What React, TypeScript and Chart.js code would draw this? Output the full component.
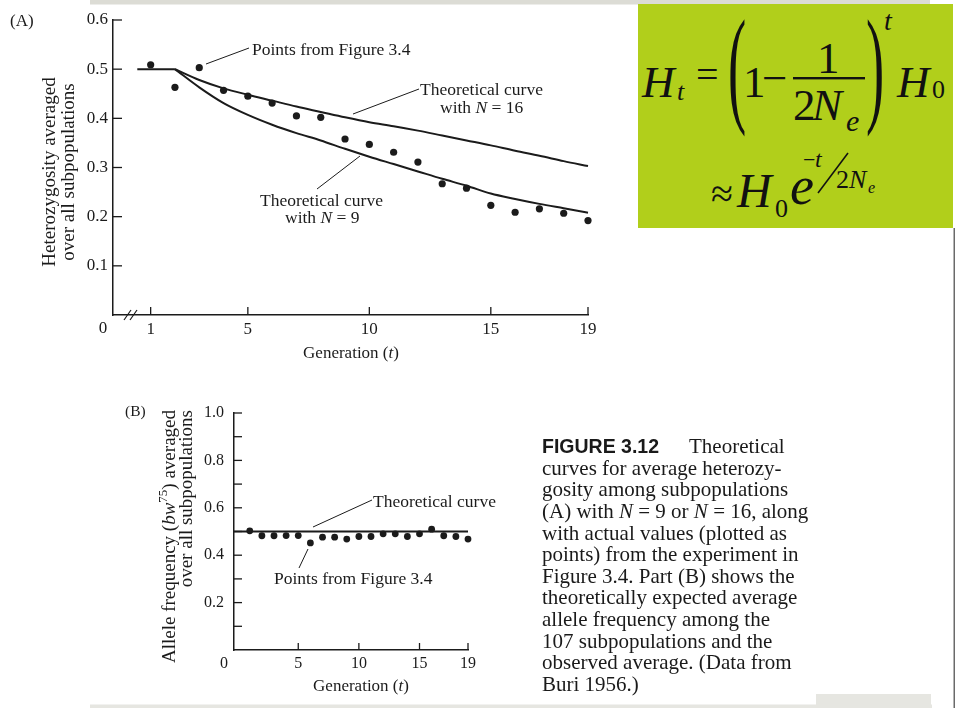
import React, { useEffect, useRef } from "react";
import { Chart, registerables } from "chart.js";
Chart.register(...registerables);

// ---------- Panel A data ----------
const generationsA = [1, 2, 3, 4, 5, 6, 7, 8, 9, 10, 11, 12, 13, 14, 15, 16, 17, 18, 19];
const heterozygosityObserved = [0.509, 0.463, 0.503, 0.457, 0.445, 0.431, 0.405, 0.402, 0.358, 0.347, 0.331, 0.311, 0.267, 0.258, 0.223, 0.209, 0.216, 0.207, 0.192];
const plateauGenerations = [0.45, 2];
const plateauHeterozygosity = [0.5, 0.5];
const curveGenerations = [2, 3, 4, 5, 6, 7, 8, 9, 10, 11, 12, 13, 14, 15, 16, 17, 18, 19];
const heterozygosityN16 = [0.5, 0.478, 0.461, 0.448, 0.436, 0.424, 0.413, 0.402, 0.392, 0.384, 0.375, 0.365, 0.355, 0.345, 0.334, 0.324, 0.313, 0.303];
const heterozygosityN9 = [0.5, 0.463, 0.431, 0.407, 0.387, 0.37, 0.355, 0.338, 0.322, 0.307, 0.292, 0.277, 0.263, 0.247, 0.236, 0.226, 0.217, 0.208];
const xTicksA = [1, 5, 10, 15, 19];
const yTicksA = [0, 0.1, 0.2, 0.3, 0.4, 0.5, 0.6];

// ---------- Panel B data ----------
const generationsB = [1, 2, 3, 4, 5, 6, 7, 8, 9, 10, 11, 12, 13, 14, 15, 16, 17, 18, 19];
const alleleFreqObserved = [0.503, 0.482, 0.482, 0.483, 0.483, 0.452, 0.476, 0.476, 0.468, 0.479, 0.479, 0.49, 0.49, 0.479, 0.49, 0.51, 0.482, 0.479, 0.468];
const theoryGenerationsB = [-0.3, 19];
const theoryFreqB = [0.5, 0.5];
const xTicksB = [5, 10, 15, 19];
const yTicksB = [0, 0.1, 0.2, 0.3, 0.4, 0.5, 0.6, 0.7, 0.8, 0.9, 1.0];
const yLabelledB = [0.2, 0.4, 0.6, 0.8, 1.0];

const SERIF = '"Liberation Serif", "Times New Roman", serif';
const INK = "#1b1b1b";
const PW = 956;
const PH = 708;

type Part = { t: string; it?: boolean; sup?: boolean };

function fontOf(p: Part, size: number) {
  const s = p.sup ? Math.round(size * 0.68) : size;
  return `${p.it ? "italic " : ""}${s}px ${SERIF}`;
}

function drawRich(ctx: CanvasRenderingContext2D, parts: Part[], x: number, y: number, size: number, align: "left" | "center" | "right" = "left") {
  let total = 0;
  const widths = parts.map((p) => {
    ctx.font = fontOf(p, size);
    const w = ctx.measureText(p.t).width;
    total += w;
    return w;
  });
  let cx = align === "left" ? x : align === "center" ? x - total / 2 : x - total;
  ctx.textAlign = "left";
  ctx.textBaseline = "alphabetic";
  parts.forEach((p, i) => {
    ctx.font = fontOf(p, size);
    ctx.fillText(p.t, cx, p.sup ? y - size * 0.4 : y);
    cx += widths[i];
  });
}

function drawRotated(ctx: CanvasRenderingContext2D, parts: Part[], x: number, y: number, size: number, align: "left" | "center" | "right") {
  ctx.save();
  ctx.translate(x, y);
  ctx.rotate(-Math.PI / 2);
  drawRich(ctx, parts, 0, 0, size, align);
  ctx.restore();
}

function seg(ctx: CanvasRenderingContext2D, x1: number, y1: number, x2: number, y2: number) {
  ctx.beginPath();
  ctx.moveTo(x1, y1);
  ctx.lineTo(x2, y2);
  ctx.stroke();
}

const toXY = (xs: number[], ys: number[]) => xs.map((x, i) => ({ x, y: ys[i] }));

const decorA = {
  id: "decorA",
  afterDraw(chart: any) {
    const { ctx, chartArea: ca, scales } = chart;
    const x = scales.x;
    const y = scales.y;
    ctx.save();
    ctx.strokeStyle = INK;
    ctx.fillStyle = INK;
    ctx.lineWidth = 1.3;
    y.ticks.forEach((t: any) => {
      if (t.value === 0) return;
      const py = y.getPixelForValue(t.value);
      seg(ctx, ca.left, py, ca.left + 9, py);
    });
    x.ticks.forEach((t: any) => {
      const px = x.getPixelForValue(t.value);
      seg(ctx, px, ca.bottom, px, ca.bottom - 8);
    });
    // axis break
    ctx.lineWidth = 1.2;
    seg(ctx, 124, 320, 131, 310);
    seg(ctx, 130, 320, 137, 310);
    ctx.font = `17px ${SERIF}`;
    ctx.textAlign = "center";
    ctx.textBaseline = "alphabetic";
    ctx.fillText("0", 103, 333);
    // panel letter
    drawRich(ctx, [{ t: "(A)" }], 10, 26, 17);
    // titles
    drawRotated(ctx, [{ t: "Heterozygosity averaged" }], 54.5, 172, 19, "center");
    drawRotated(ctx, [{ t: "over all subpopulations" }], 73.5, 172, 19, "center");
    drawRich(ctx, [{ t: "Generation (" }, { t: "t", it: true }, { t: ")" }], 351, 358, 17, "center");
    // annotations
    ctx.lineWidth = 1;
    seg(ctx, 206, 64, 249, 48);
    seg(ctx, 353, 114, 419, 89);
    seg(ctx, 360, 156, 317, 189);
    drawRich(ctx, [{ t: "Points from Figure 3.4" }], 252, 55, 17.5);
    drawRich(ctx, [{ t: "Theoretical curve" }], 420, 95, 17.5);
    drawRich(ctx, [{ t: "with " }, { t: "N", it: true }, { t: " = 16" }], 440, 113, 17.5);
    drawRich(ctx, [{ t: "Theoretical curve" }], 260, 205.5, 17.5);
    drawRich(ctx, [{ t: "with " }, { t: "N", it: true }, { t: " = 9" }], 285, 223, 17.5);
    ctx.restore();
  },
};

const decorB = {
  id: "decorB",
  afterDraw(chart: any) {
    const { ctx, chartArea: ca, scales } = chart;
    const x = scales.x;
    const y = scales.y;
    ctx.save();
    ctx.strokeStyle = INK;
    ctx.fillStyle = INK;
    ctx.lineWidth = 1.3;
    y.ticks.forEach((t: any) => {
      if (t.value === 0) return;
      const py = y.getPixelForValue(t.value);
      seg(ctx, ca.left, py, ca.left + 8, py);
    });
    x.ticks.forEach((t: any) => {
      const px = x.getPixelForValue(t.value);
      seg(ctx, px, ca.bottom, px, ca.bottom - 7);
    });
    ctx.font = `16px ${SERIF}`;
    ctx.textAlign = "center";
    ctx.textBaseline = "alphabetic";
    ctx.fillText("0", 224, 668);
    drawRich(ctx, [{ t: "(B)" }], 125, 416, 15.5);
    drawRotated(ctx, [{ t: "Allele frequency (" }, { t: "bw", it: true }, { t: "75", sup: true }, { t: ") averaged" }], 174.5, 410, 19, "right");
    drawRotated(ctx, [{ t: "over all subpopulations" }], 191.5, 410, 19, "right");
    drawRich(ctx, [{ t: "Generation (" }, { t: "t", it: true }, { t: ")" }], 361, 691, 17, "center");
    ctx.lineWidth = 1;
    seg(ctx, 313, 527, 372, 500);
    seg(ctx, 308, 549, 299, 568);
    drawRich(ctx, [{ t: "Theoretical curve" }], 373, 507, 17.5);
    drawRich(ctx, [{ t: "Points from Figure 3.4" }], 274, 584, 17.5);
    ctx.restore();
  },
};

function axisCommon(fontSize: number) {
  return {
    type: "linear" as const,
    grid: { display: false, drawTicks: false },
    border: { display: true, color: INK, width: 1.5 },
    ticks: { color: INK, font: { family: SERIF, size: fontSize }, autoSkip: false, maxRotation: 0, minRotation: 0 },
  };
}

function configA(): any {
  const ax = axisCommon(17);
  const ay = axisCommon(17);
  return {
    type: "scatter",
    data: {
      datasets: [
        { type: "line", data: toXY(plateauGenerations, plateauHeterozygosity), borderColor: INK, borderWidth: 2, pointRadius: 0, fill: false, clip: false },
        { type: "line", data: toXY(curveGenerations, heterozygosityN16), borderColor: INK, borderWidth: 2, pointRadius: 0, fill: false, cubicInterpolationMode: "monotone", clip: false },
        { type: "line", data: toXY(curveGenerations, heterozygosityN9), borderColor: INK, borderWidth: 2, pointRadius: 0, fill: false, cubicInterpolationMode: "monotone", clip: false },
        { type: "scatter", data: toXY(generationsA, heterozygosityObserved), pointRadius: 3.6, backgroundColor: INK, borderWidth: 0, clip: false },
      ],
    },
    options: {
      responsive: false,
      animation: false,
      devicePixelRatio: 1,
      events: [],
      layout: { padding: { left: 0, top: 20, right: PW - 588, bottom: PH - 315 - 55 } },
      plugins: { legend: { display: false }, tooltip: { enabled: false }, title: { display: false } },
      scales: {
        x: {
          ...ax,
          min: -0.55,
          max: 19,
          ticks: { ...ax.ticks, padding: 4 },
          afterBuildTicks: (s: any) => { s.ticks = xTicksA.map((v) => ({ value: v })); },
          afterFit: (s: any) => { s.height = 55; },
        },
        y: {
          ...ay,
          min: 0,
          max: 0.6,
          ticks: { ...ay.ticks, padding: 5, callback: (v: number) => (v === 0 ? "" : v.toFixed(1)) },
          afterBuildTicks: (s: any) => { s.ticks = yTicksA.map((v) => ({ value: v })); },
          afterFit: (s: any) => { s.width = 113; },
        },
      },
    },
    plugins: [decorA],
  };
}

function configB(): any {
  const ax = axisCommon(16);
  const ay = axisCommon(16);
  return {
    type: "scatter",
    data: {
      datasets: [
        { type: "line", data: toXY(theoryGenerationsB, theoryFreqB), borderColor: INK, borderWidth: 2, pointRadius: 0, fill: false, clip: false },
        { type: "scatter", data: toXY(generationsB, alleleFreqObserved), pointRadius: 3.4, backgroundColor: INK, borderWidth: 0, clip: false },
      ],
    },
    options: {
      responsive: false,
      animation: false,
      devicePixelRatio: 1,
      events: [],
      layout: { padding: { left: 0, top: 413, right: PW - 468, bottom: 0 } },
      plugins: { legend: { display: false }, tooltip: { enabled: false }, title: { display: false } },
      scales: {
        x: {
          ...ax,
          min: -0.3,
          max: 19,
          ticks: { ...ax.ticks, padding: 4 },
          afterBuildTicks: (s: any) => { s.ticks = xTicksB.map((v) => ({ value: v })); },
          afterFit: (s: any) => { s.height = 58; },
        },
        y: {
          ...ay,
          min: 0,
          max: 1,
          ticks: {
            ...ay.ticks,
            padding: 10,
            callback: (v: number) => (yLabelledB.some((l) => Math.abs(l - v) < 1e-6) ? v.toFixed(1) : ""),
          },
          afterBuildTicks: (s: any) => { s.ticks = yTicksB.map((v) => ({ value: v })); },
          afterFit: (s: any) => { s.width = 234; },
        },
      },
    },
    plugins: [decorB],
  };
}

const captionLines: React.ReactNode[] = [
  "curves for average heterozy-",
  "gosity among subpopulations",
  <>(A) with <i>N</i> = 9 or <i>N</i> = 16, along</>,
  "with actual values (plotted as",
  "points) from the experiment in",
  "Figure 3.4. Part (B) shows the",
  "theoretically expected average",
  "allele frequency among the",
  "107 subpopulations and the",
  "observed average. (Data from",
  "Buri 1956.)",
];

function Formula() {
  const f = { fontFamily: SERIF, fill: "#111" } as const;
  return (
    <svg width={PW} height={PH} style={{ position: "absolute", left: 0, top: 0 }}>
      <rect x={90} y={0} width={840} height={4.5} fill="#dcdcd5" />
      <rect x={638} y={4} width={315} height={224} fill="#b1cf1b" />
      <rect x={953.5} y={228} width={1.5} height={480} fill="#6a6a6a" />
      <rect x={90} y={704.5} width={842} height={3.5} fill="#e6e6e1" />
      <rect x={816} y={694} width={115} height={14} fill="#e6e6e1" />
      <g {...f}>
        <text x={642} y={97} fontSize={45} fontStyle="italic">H</text>
        <text x={677} y={100} fontSize={26} fontStyle="italic">t</text>
        <text x={696} y={88} fontSize={40}>=</text>
        <text transform="translate(728,109) scale(0.42,1)" fontSize={130}>(</text>
        <text x={743} y={97} fontSize={45}>1</text>
        <text x={762} y={93} fontSize={45}>−</text>
        <text x={817} y={73} fontSize={45}>1</text>
        <rect x={793} y={77} width={72} height={2.4} fill="#111" />
        <text x={793} y={120} fontSize={45}>2</text>
        <text x={812} y={120} fontSize={45} fontStyle="italic">N</text>
        <text x={846} y={131} fontSize={30} fontStyle="italic">e</text>
        <text transform="translate(866,109) scale(0.42,1)" fontSize={130}>)</text>
        <text x={884} y={30} fontSize={28} fontStyle="italic">t</text>
        <text x={897} y={97} fontSize={45} fontStyle="italic">H</text>
        <text x={932} y={98} fontSize={26}>0</text>

        <text x={711} y={207} fontSize={40}>≈</text>
        <text x={737} y={207} fontSize={48} fontStyle="italic">H</text>
        <text x={775} y={217} fontSize={26}>0</text>
        <text x={790} y={204} fontSize={54} fontStyle="italic">e</text>
        <text x={803} y={167} fontSize={22}>−</text>
        <text x={815} y={167} fontSize={24} fontStyle="italic">t</text>
        <line x1={818} y1={193} x2={848} y2={153} stroke="#111" strokeWidth={1.6} />
        <text x={836} y={188} fontSize={26}>2</text>
        <text x={849} y={188} fontSize={26} fontStyle="italic">N</text>
        <text x={868} y={193} fontSize={16} fontStyle="italic">e</text>
      </g>
    </svg>
  );
}

export default function App() {
  const refA = useRef<HTMLCanvasElement>(null);
  const refB = useRef<HTMLCanvasElement>(null);
  useEffect(() => {
    const a = new Chart(refA.current as HTMLCanvasElement, configA());
    const b = new Chart(refB.current as HTMLCanvasElement, configB());
    return () => {
      a.destroy();
      b.destroy();
    };
  }, []);
  const lineH = 21.64;
  return (
    <div style={{ position: "absolute", left: 0, top: 0, width: PW, height: PH, overflow: "hidden", background: "#fff" }}>
      <Formula />
      <canvas ref={refA} width={PW} height={PH} style={{ position: "absolute", left: 0, top: 0 }} />
      <canvas ref={refB} width={PW} height={PH} style={{ position: "absolute", left: 0, top: 0 }} />
      <div style={{ position: "absolute", left: 542, top: 436, fontFamily: SERIF, fontSize: 21, color: "#1a1a1a", whiteSpace: "pre" }}>
        <div style={{ height: lineH, lineHeight: `${lineH}px` }}>
          <span style={{ display: "inline-block", width: 147, fontFamily: '"Liberation Sans", Arial, sans-serif', fontWeight: "bold", fontSize: 19.5 }}>FIGURE 3.12</span>
          <span>Theoretical</span>
        </div>
        {captionLines.map((l, i) => (
          <div key={i} style={{ height: lineH, lineHeight: `${lineH}px` }}>{l}</div>
        ))}
      </div>
    </div>
  );
}
